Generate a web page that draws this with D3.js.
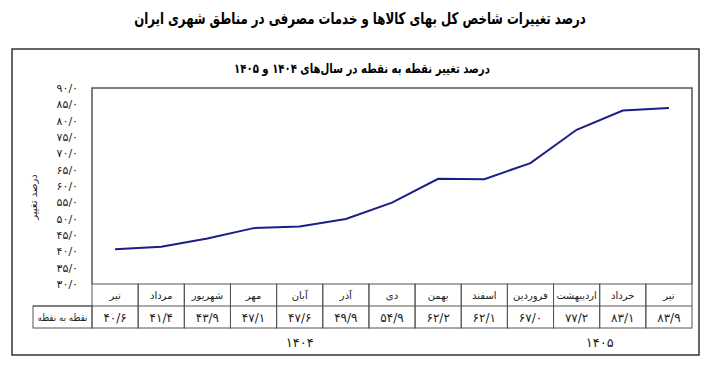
<!DOCTYPE html>
<html>
<head>
<meta charset="utf-8">
<script src="https://cdn.jsdelivr.net/npm/d3@7"></script>
<style>
  body { margin: 0; background: #fff; }
  svg { font-family: "DejaVu Sans", sans-serif; }
</style>
</head>
<body>
<svg id="chart" width="720" height="365"></svg>
<script>
const months = ['تیر', 'مرداد', 'شهریور', 'مهر', 'آبان', 'آذر', 'دی', 'بهمن', 'اسفند', 'فروردین', 'اردیبهشت', 'خرداد', 'تیر'];
const values = [40.6, 41.4, 43.9, 47.1, 47.6, 49.9, 54.9, 62.2, 62.1, 67.0, 77.2, 83.1, 83.9];
const yTicks = [30, 35, 40, 45, 50, 55, 60, 65, 70, 75, 80, 85, 90];
const yearLabels = ['۱۴۰۴', '۱۴۰۵'];
const yearSpans = [[0, 8], [9, 12]];

const title = 'درصد تغییرات شاخص کل بهای کالاها و خدمات مصرفی در مناطق شهری ایران';
const subtitle = 'درصد تغییر نقطه به نقطه در سال‌های ۱۴۰۴ و ۱۴۰۵';
const yLabel = 'درصد تغییر';
const rowLabel = 'نقطه به نقطه';

const svg = d3.select('#chart'),
      margin = { top: 88, right: 28, bottom: 81, left: 92 },
      width = +svg.attr('width') - margin.left - margin.right,
      height = +svg.attr('height') - margin.top - margin.bottom;

// persian digits, "/" as decimal mark
const fa = s => String(s).replace(/\d/g, c => '۰۱۲۳۴۵۶۷۸۹'[c]).replace('.', '/');
const fmt = v => fa(v.toFixed(1));

const lineCol = '#555';

// squeeze a centred text horizontally so it is at most w wide
function fitWidth(sel, w) {
  sel.each(function() {
    const len = this.getComputedTextLength();
    if (len > w) {
      const el = d3.select(this);
      const cx = +el.attr('x'), cy = +el.attr('y');
      el.attr('transform', `translate(${cx},${cy}) scale(${w / len},1) translate(${-cx},${-cy})`);
    }
  });
}

// outer frame
svg.append('rect')
    .attr('x', 12).attr('y', 49)
    .attr('width', 687).attr('height', 306)
    .attr('fill', 'none')
    .attr('stroke', '#333')
    .attr('stroke-width', 1.5);

svg.append('text')
    .attr('x', 360).attr('y', 24)
    .attr('text-anchor', 'middle')
    .attr('direction', 'rtl')
    .attr('font-size', 16)
    .attr('font-weight', 'bold')
    .text(title)
    .call(fitWidth, 452);

svg.append('text')
    .attr('x', 362).attr('y', 73)
    .attr('text-anchor', 'middle')
    .attr('direction', 'rtl')
    .attr('font-size', 13)
    .attr('font-weight', 'bold')
    .text(subtitle)
    .call(fitWidth, 256);

const g = svg.append('g')
    .attr('transform', `translate(${margin.left},${margin.top})`);

const x = d3.scaleBand()
    .domain(months.map((m, i) => i))
    .range([0, width]);

const y = d3.scaleLinear()
    .domain([30, 90])
    .range([height, 0]);

const plotH = y(30);

// plot box (left, top, right)
g.append('path')
    .attr('d', `M0,${plotH}V0H${width}V${plotH}`)
    .attr('fill', 'none')
    .attr('stroke', lineCol)
    .attr('stroke-width', 1.5);

const yAxis = g.append('g')
    .call(d3.axisLeft(y).tickValues(yTicks).tickSize(0).tickPadding(14).tickFormat(fmt));
yAxis.select('.domain').remove();
yAxis.selectAll('text')
    .attr('font-family', '"DejaVu Sans", sans-serif')
    .attr('font-size', 11)
    .attr('fill', '#222');

svg.append('text')
    .attr('transform', 'rotate(-90)')
    .attr('x', -197)
    .attr('y', 37)
    .attr('text-anchor', 'middle')
    .attr('direction', 'rtl')
    .attr('font-size', 10)
    .attr('fill', '#222')
    .text(yLabel);

const line = d3.line()
    .x((d, i) => x(i) + x.bandwidth() / 2)
    .y(d => y(d));

g.append('path')
    .datum(values)
    .attr('d', line)
    .attr('fill', 'none')
    .attr('stroke', '#1c1c8a')
    .attr('stroke-width', 2);

// data table under the plot
const rowH = 22;
const table = g.append('g').attr('transform', `translate(0,${plotH})`);

table.selectAll('.cell')
    .data(months)
    .enter().append('rect')
      .attr('class', 'cell')
      .attr('x', (d, i) => x(i))
      .attr('y', 0)
      .attr('width', x.bandwidth())
      .attr('height', rowH * 2)
      .attr('fill', 'none')
      .attr('stroke', lineCol)
      .attr('stroke-width', 1);

table.append('line')
    .attr('x1', -59).attr('x2', width)
    .attr('y1', rowH).attr('y2', rowH)
    .attr('stroke', lineCol);

table.append('rect')
    .attr('x', -59).attr('y', rowH)
    .attr('width', 59).attr('height', rowH)
    .attr('fill', 'none')
    .attr('stroke', lineCol);

table.append('text')
    .attr('x', -29.5).attr('y', rowH + 15)
    .attr('text-anchor', 'middle')
    .attr('direction', 'rtl')
    .attr('font-size', 10)
    .attr('fill', '#222')
    .text(rowLabel)
    .call(fitWidth, 50);

table.selectAll('.month')
    .data(months)
    .enter().append('text')
      .attr('class', 'month')
      .attr('x', (d, i) => x(i) + x.bandwidth() / 2)
      .attr('y', 15)
      .attr('text-anchor', 'middle')
      .attr('direction', 'rtl')
      .attr('font-size', 10)
      .attr('fill', '#222')
      .text(d => d)
      .call(fitWidth, x.bandwidth() - 6);

table.selectAll('.val')
    .data(values)
    .enter().append('text')
      .attr('class', 'val')
      .attr('x', (d, i) => x(i) + x.bandwidth() / 2)
      .attr('y', rowH + 16)
      .attr('text-anchor', 'middle')
      .attr('font-size', 12)
      .attr('fill', '#222')
      .text(fmt);

table.selectAll('.year')
    .data(yearLabels)
    .enter().append('text')
      .attr('class', 'year')
      .attr('x', (d, i) => (x(yearSpans[i][0]) + x(yearSpans[i][1]) + x.bandwidth()) / 2)
      .attr('y', rowH * 2 + 19)
      .attr('text-anchor', 'middle')
      .attr('font-size', 13)
      .attr('fill', '#222')
      .text(d => d);
</script>
</body>
</html>
